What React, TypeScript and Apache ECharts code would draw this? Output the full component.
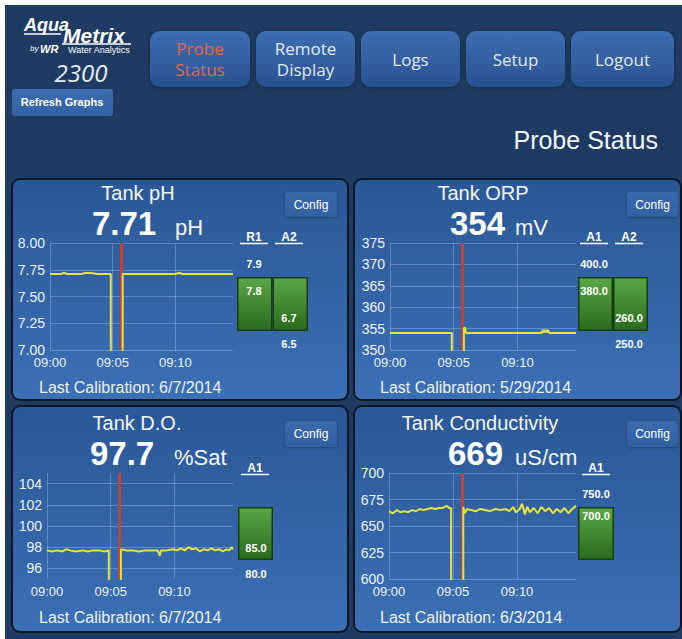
import React, { useEffect, useRef } from "react";
import * as echarts from "echarts";

// ---------- data ----------
const timeLabels = ["09:00", "09:05", "09:10"]; // x tick labels, every 5 minutes
const cursorMinute = 5.7; // red cursor line (minutes after 09:00)

// [minute after 09:00, reading]; 0 = probe offline
const phData = [
  [0, 7.71], [0.5, 7.71], [0.9, 7.71], [1.1, 7.72], [1.4, 7.71], [2, 7.71], [2.5, 7.71],
  [2.8, 7.72], [3.3, 7.72], [3.8, 7.71], [4.3, 7.71], [4.85, 7.71], [4.85, 0], [5.8, 0],
  [5.8, 7.71], [6.5, 7.71], [7.5, 7.71], [8.5, 7.71], [9.5, 7.71], [10, 7.71], [10.3, 7.72],
  [10.6, 7.71], [11.5, 7.71], [12.5, 7.71], [13.5, 7.71], [14.6, 7.71],
];
const orpData = [
  [0, 354], [1, 354], [2, 354], [3, 354], [4, 354], [4.85, 354], [4.85, 0], [5.8, 0],
  [5.8, 355.2], [5.9, 355.2], [5.95, 354], [7, 354], [8, 354], [9, 354], [10, 354], [11, 354],
  [11.9, 354], [12.0, 354.7], [12.1, 354.1], [12.2, 354.7], [12.3, 354.1], [12.4, 354.7],
  [12.5, 354], [13.5, 354], [14.6, 354],
];
const doData = [
  [0, 97.7], [0.4, 97.6], [0.8, 97.7], [1.2, 97.6], [1.5, 97.8], [1.8, 97.7], [2.3, 97.6],
  [2.8, 97.7], [3.2, 97.6], [3.6, 97.7], [4.1, 97.7], [4.5, 97.6], [4.85, 97.7], [4.85, 0],
  [5.8, 0], [5.8, 97.8], [6.2, 97.7], [6.7, 97.7], [7.2, 97.6], [7.7, 97.7], [8.2, 97.7],
  [8.7, 97.7], [8.85, 97.2], [8.95, 97.7], [9.4, 97.7], [9.9, 97.8], [10.2, 97.7], [10.5, 97.9],
  [10.8, 97.7], [11.1, 98.0], [11.4, 97.8], [11.7, 97.9], [12.0, 97.6], [12.3, 97.8],
  [12.6, 97.7], [12.9, 97.9], [13.2, 97.7], [13.5, 97.8], [13.8, 97.6], [14.1, 97.8],
  [14.3, 97.7], [14.5, 98.0], [14.6, 97.8],
];
const condData = [
  [0, 664], [0.3, 662], [0.6, 665], [0.9, 663], [1.2, 664], [1.5, 663], [1.8, 665], [2.1, 664],
  [2.4, 666], [2.7, 665], [3.0, 666], [3.3, 667], [3.6, 666], [3.9, 667], [4.2, 667], [4.5, 669],
  [4.7, 667], [4.85, 667], [4.85, 0], [5.8, 0], [5.8, 668], [5.9, 662], [6.1, 666], [6.4, 665],
  [6.8, 664], [7.1, 666], [7.5, 665], [7.9, 664], [8.3, 666], [8.7, 665], [9.1, 666], [9.4, 664],
  [9.7, 668], [9.9, 663], [10.2, 666], [10.4, 671], [10.6, 661], [10.8, 668], [11.0, 663],
  [11.3, 667], [11.6, 662], [11.9, 668], [12.2, 664], [12.5, 667], [12.8, 662], [13.1, 666],
  [13.4, 663], [13.7, 667], [14.0, 662], [14.3, 666], [14.6, 669],
];

const panelTitles = ["Tank pH", "Tank ORP", "Tank D.O.", "Tank Conductivity"];
const currentValues = ["7.71", "354", "97.7", "669"];
const units = ["pH", "mV", "%Sat", "uS/cm"];
const calibrations = ["6/7/2014", "5/29/2014", "6/7/2014", "6/3/2014"];

const phRelayNames = ["R1", "A2"];
const phRelayStates = [1, 1];
const phRelayLabels = ["7.9", "7.8", "6.7", "6.5"];
const orpRelayNames = ["A1", "A2"];
const orpRelayStates = [1, 1];
const orpRelayLabels = ["400.0", "380.0", "260.0", "250.0"];
const doRelayNames = ["A1"];
const doRelayStates = [1];
const doRelayLabels = ["85.0", "80.0"];
const condRelayNames = ["A1"];
const condRelayStates = [1];
const condRelayLabels = ["750.0", "700.0"];

const navLabels = [["Probe", "Status"], ["Remote", "Display"], ["Logs"], ["Setup"], ["Logout"]];

// ---------- styles ----------
const SANS = '"Liberation Sans", Arial, Helvetica, sans-serif';
const OPEN = '"Open Sans", "Noto Sans", sans-serif';
const NAVY = "#1f3b62";
const GRID = "rgba(150,185,235,0.45)";
const LABEL = "#eef3fa";
const YELLOW = "#e4e43e";
const RED = "#c4423c";

const vgrad = (a: string, b: string) => ({
  type: "linear", x: 0, y: 0, x2: 0, y2: 1,
  colorStops: [{ offset: 0, color: a }, { offset: 1, color: b }],
});

function txt(x: number, y: number, text: string, font: string, fill: string, align = "left", v = "middle", z = 30, extra: any = {}) {
  return {
    type: "text", x, y, z, silent: true,
    style: { text, font, fill, align, verticalAlign: v, textAlign: align, textVerticalAlign: v, ...extra },
  };
}
function box(x: number, y: number, w: number, h: number, r: number, fill: any, z = 1, extra: any = {}) {
  return { type: "rect", z, silent: true, shape: { x, y, width: w, height: h, r }, style: { fill, ...extra } };
}
function line(x1: number, y1: number, x2: number, y2: number, stroke: string, lw: number, z = 30) {
  return { type: "line", z, silent: true, shape: { x1, y1, x2, y2 }, style: { stroke, lineWidth: lw } };
}

export default function App() {
  const ref = useRef<HTMLDivElement>(null);
  useEffect(() => {
    if (!ref.current) return;
    const chart = echarts.init(ref.current, undefined, { renderer: "svg" });

    const charts = [
      { grid: { left: 50, top: 243, width: 183, height: 107 }, min: 7, max: 8, interval: 0.25, fmt: (v: number) => v.toFixed(2), data: phData },
      { grid: { left: 390, top: 243, width: 186, height: 107 }, min: 350, max: 375, interval: 5, fmt: (v: number) => String(v), data: orpData },
      { grid: { left: 47, top: 473, width: 186, height: 106 }, min: 95, max: 105, interval: 1, fmt: (v: number) => (v % 2 === 0 && v > 95 && v < 105 ? String(v) : ""), data: doData, alt: true },
      { grid: { left: 389, top: 473, width: 187, height: 106 }, min: 600, max: 700, interval: 25, fmt: (v: number) => String(v), data: condData },
    ];
    const relays = [
      { grid: { left: 237, top: 277, width: 71, height: 54 }, names: phRelayNames, states: phRelayStates },
      { grid: { left: 578, top: 277, width: 70, height: 54 }, names: orpRelayNames, states: orpRelayStates },
      { grid: { left: 238, top: 507, width: 35, height: 53 }, names: doRelayNames, states: doRelayStates },
      { grid: { left: 578, top: 507, width: 36, height: 53 }, names: condRelayNames, states: condRelayStates },
    ];

    const grids: any[] = [];
    const xAxes: any[] = [];
    const yAxes: any[] = [];
    const series: any[] = [];

    charts.forEach((c, i) => {
      grids.push({ ...c.grid, containLabel: false });
      xAxes.push({
        type: "value", gridIndex: i, min: 0, max: 14.6, interval: 5, z: 5,
        axisLine: { show: false }, axisTick: { show: false },
        splitLine: { show: true, showMaxLine: false, lineStyle: { color: GRID, width: 1 } },
        axisLabel: {
          color: LABEL, fontSize: 13, fontFamily: SANS, margin: 6, showMaxLabel: false,
          formatter: (v: number) => (v % 5 === 0 ? timeLabels[v / 5] || "" : ""),
        },
      });
      yAxes.push({
        type: "value", gridIndex: i, min: c.min, max: c.max, interval: c.interval, z: 5,
        axisLine: { show: false }, axisTick: { show: false },
        splitLine: { show: true, lineStyle: { color: c.alt ? ["rgba(0,0,0,0)", GRID] : GRID, width: 1 } },
        axisLabel: { color: LABEL, fontSize: 14, fontFamily: SANS, margin: 5, formatter: c.fmt },
      });
      series.push({
        type: "line", xAxisIndex: i, yAxisIndex: i, data: [], z: 8, silent: true,
        markLine: {
          silent: true, symbol: ["none", "none"], label: { show: false },
          lineStyle: { color: RED, width: 3, type: "solid", opacity: 1 },
          emphasis: { disabled: true },
          data: [{ xAxis: cursorMinute }],
        },
      });
      series.push({
        type: "line", xAxisIndex: i, yAxisIndex: i, data: c.data, z: 10, silent: true,
        showSymbol: false, symbol: "none", clip: true,
        lineStyle: { color: YELLOW, width: 2 },
      });
    });

    relays.forEach((r, k) => {
      const gi = 4 + k;
      grids.push({ ...r.grid, containLabel: false });
      xAxes.push({ type: "category", gridIndex: gi, data: r.names, show: false });
      yAxes.push({ type: "value", gridIndex: gi, min: 0, max: 1, show: false });
      series.push({
        type: "bar", xAxisIndex: gi, yAxisIndex: gi, data: r.states, barWidth: "100%", z: 10, silent: true,
        itemStyle: { color: vgrad("#5aa747", "#2b6a1f"), borderColor: "#183c12", borderWidth: 1.5 },
      });
    });

    // ---------- graphic (page chrome) ----------
    const g: any[] = [];
    g.push(box(0, 0, 682, 639, 0, "#ffffff", 0));
    g.push(box(5, 5, 677, 634, 0, NAVY, 0));

    // logo
    g.push(txt(24, 25, "Aqua", `italic bold 18px ${SANS}`, "#ffffff", "left", "middle", 30));
    g.push(line(24, 34, 61, 34, "#ffffff", 1.5));
    g.push(txt(63, 35, "Metrix", `italic bold 21px ${SANS}`, "#ffffff", "left", "middle", 30));
    g.push(line(62, 44, 131, 44, "#ffffff", 1.5));
    g.push(txt(30, 48, "by", `italic 8px ${SANS}`, "#ffffff", "left", "middle", 30));
    g.push(txt(40, 49, "WR", `italic bold 11px ${SANS}`, "#ffffff", "left", "middle", 30));
    g.push(txt(68, 50, "Water Analytics", `9px ${SANS}`, "#ffffff", "left", "middle", 30));
    g.push(txt(81, 72, "2300", `italic 24px ${OPEN}`, "#e8eef6", "center", "middle", 30));

    // refresh button
    g.push(box(12, 89, 101, 27, 3, vgrad("#3e6cae", "#3462a4"), 2));
    g.push(txt(62, 102, "Refresh Graphs", `bold 11px ${SANS}`, "#ffffff", "center", "middle", 30));

    // nav buttons
    const navX = [150, 256, 361, 466, 571];
    const navW = [100, 99, 99, 99, 103];
    navLabels.forEach((lines, i) => {
      g.push(box(navX[i], 31, navW[i], 56, 10, vgrad("#3e6eb2", "#2a5192"), 2, { shadowBlur: 4, shadowColor: "rgba(0,0,0,0.35)", shadowOffsetY: 1 }));
      const cx = navX[i] + navW[i] / 2;
      const ys = lines.length === 2 ? [48, 69] : [59];
      lines.forEach((s, j) => {
        g.push(txt(cx, ys[j], s, `17px ${OPEN}`, i === 0 ? "#e8653e" : "#e2eaf5", "center", "middle", 30));
      });
    });

    g.push(txt(658, 140, "Probe Status", `25px ${SANS}`, "#f2f5fa", "right", "middle", 30));

    // panels
    const panels = [
      { x: 12, y: 179, w: 336, h: 221 },
      { x: 354, y: 179, w: 327, h: 221 },
      { x: 12, y: 406, w: 336, h: 226 },
      { x: 354, y: 406, w: 327, h: 226 },
    ];
    panels.forEach((p) => {
      g.push(box(p.x, p.y, p.w, p.h, 8, vgrad("#2b5796", "#3c6fb5"), 1, { stroke: "#0c1828", lineWidth: 2 }));
    });

    // titles / values
    const head = [
      { tx: 138, ty: 193, vx: 92, ux: 175, base: 235 },
      { tx: 483, ty: 193, vx: 450, ux: 515, base: 235 },
      { tx: 137, ty: 423, vx: 90, ux: 174, base: 465 },
      { tx: 480, ty: 423, vx: 448, ux: 515, base: 465 },
    ];
    head.forEach((h, i) => {
      g.push(txt(h.tx, h.ty, panelTitles[i], `20px ${SANS}`, "#f4f7fb", "center"));
      g.push(txt(h.vx, h.base - 11.4, currentValues[i], `bold 33px ${SANS}`, "#ffffff", "left"));
      g.push(txt(h.ux, h.base - 7.6, units[i], `22px ${SANS}`, "#f4f7fb", "left"));
    });

    // calibration
    const cal = [[39, 387], [380, 387], [39, 617], [380, 617]];
    cal.forEach((c, i) => g.push(txt(c[0], c[1], "Last Calibration: " + calibrations[i], `16px ${SANS}`, "#eef3fa", "left")));

    // config buttons
    const cfg = [[285, 192, 52, 25], [627, 192, 51, 25], [285, 421, 52, 26], [627, 421, 51, 26]];
    cfg.forEach((c) => {
      g.push(box(c[0], c[1], c[2], c[3], 4, vgrad("#3b69ab", "#3261a3"), 2, { shadowBlur: 3, shadowColor: "rgba(0,0,0,0.3)", shadowOffsetY: 1 }));
      g.push(txt(c[0] + c[2] / 2, c[1] + c[3] / 2, "Config", `12px ${SANS}`, "#ffffff", "center"));
    });

    // relay headers + labels
    const relayHdr = (names: string[], cx: number[], y: number) => {
      names.forEach((n, i) => {
        g.push(txt(cx[i], y, n, `bold 12px ${SANS}`, "#ffffff", "center"));
        g.push(line(cx[i] - 14, y + 6.5, cx[i] + 14, y + 6.5, "#ffffff", 1.5));
      });
    };
    const small = `bold 11px ${SANS}`;
    relayHdr(phRelayNames, [254, 289], 237);
    g.push(txt(254, 264, phRelayLabels[0], small, "#ffffff", "center"));
    g.push(txt(254, 291, phRelayLabels[1], small, "#ffffff", "center"));
    g.push(txt(289, 318, phRelayLabels[2], small, "#ffffff", "center"));
    g.push(txt(289, 344, phRelayLabels[3], small, "#ffffff", "center"));

    relayHdr(orpRelayNames, [594, 629], 237);
    g.push(txt(594, 264, orpRelayLabels[0], small, "#ffffff", "center"));
    g.push(txt(594, 291, orpRelayLabels[1], small, "#ffffff", "center"));
    g.push(txt(629, 318, orpRelayLabels[2], small, "#ffffff", "center"));
    g.push(txt(629, 344, orpRelayLabels[3], small, "#ffffff", "center"));

    relayHdr(doRelayNames, [255], 468);
    g.push(txt(256, 548, doRelayLabels[0], small, "#ffffff", "center"));
    g.push(txt(256, 574, doRelayLabels[1], small, "#ffffff", "center"));

    relayHdr(condRelayNames, [596], 468);
    g.push(txt(596, 494, condRelayLabels[0], small, "#ffffff", "center"));
    g.push(txt(596, 516, condRelayLabels[1], small, "#ffffff", "center"));

    chart.setOption({
      animation: false,
      backgroundColor: NAVY,
      grid: grids,
      xAxis: xAxes,
      yAxis: yAxes,
      series,
      graphic: { elements: g },
    });
    return () => chart.dispose();
  }, []);

  return <div ref={ref} style={{ position: "fixed", left: 0, top: 0, width: 682, height: 639 }} />;
}
